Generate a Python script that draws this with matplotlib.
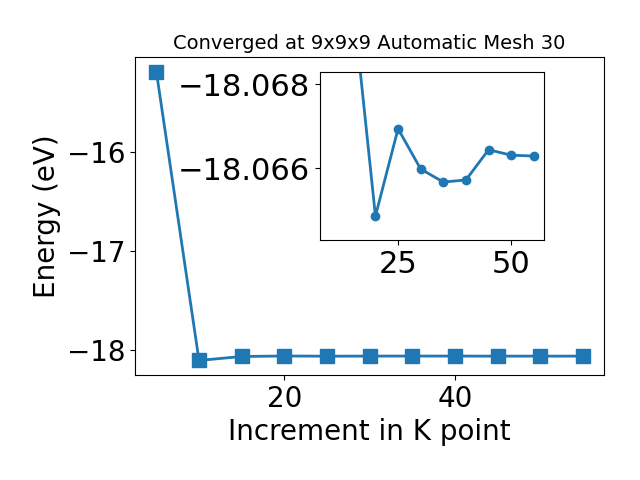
import matplotlib
matplotlib.use("Agg")
import matplotlib.pyplot as plt
from matplotlib.ticker import MultipleLocator

# k-point increment vs total energy
kpoints = [5, 10, 15, 20, 25, 30, 35, 40, 45, 50, 55]
energy = [-15.18, -18.11, -18.0700, -18.06486, -18.06694, -18.06598,
          -18.06567, -18.06572, -18.06644, -18.06631, -18.06629]

title = "Converged at 9x9x9 Automatic Mesh 30"

fig = plt.figure(figsize=(6.4, 4.8), dpi=100)
ax = fig.add_axes([0.211, 0.219, 0.733, 0.662])
ax.plot(kpoints, energy, marker='s', markersize=10.5, linewidth=2, color='#1f77b4')
ax.set_xlabel('Increment in K point', fontsize=20)
ax.set_ylabel('Energy (eV)', fontsize=20)
ax.set_title(title, fontsize=14)
ax.xaxis.set_major_locator(MultipleLocator(20))
ax.yaxis.set_major_locator(MultipleLocator(1))
ax.tick_params(labelsize=20)

# zoomed inset (skip first point)
ins = fig.add_axes([0.5, 0.5, 0.35, 0.349])
ins.plot(kpoints[1:], energy[1:], marker='o', markersize=6, linewidth=2, color='#1f77b4')
ins.set_ylim(-18.06429, -18.06828)
ins.ticklabel_format(axis='y', useOffset=False)
ins.xaxis.set_major_locator(MultipleLocator(25))
ins.yaxis.set_major_locator(MultipleLocator(0.002))
ins.tick_params(labelsize=22)

fig.savefig("out.png", dpi=100)
